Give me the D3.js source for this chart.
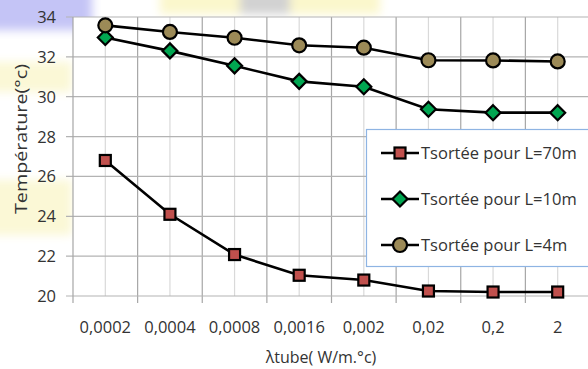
<!DOCTYPE html>
<html>
<head>
<meta charset="utf-8">
<script src="https://cdn.jsdelivr.net/npm/d3@7"></script>
<style>
  html, body { margin: 0; padding: 0; background: #fff; }
  svg { display: block; font-family: "Open Sans", Lato, sans-serif; }
</style>
</head>
<body>
<svg id="chart" width="588" height="369"></svg>
<script>
// Conductivity of the tube (categorical x axis)
const lambdaLabels = ["0,0002", "0,0004", "0,0008", "0,0016", "0,002", "0,02", "0,2", "2"];
// Outlet temperature for each tube length
const tL70 = [26.8, 24.1, 22.08, 21.04, 20.8, 20.25, 20.2, 20.2];
const tL10 = [32.97, 32.3, 31.55, 30.77, 30.5, 29.37, 29.2, 29.2];
const tL4  = [33.58, 33.25, 32.96, 32.58, 32.46, 31.83, 31.82, 31.77];
const yTicks = [20, 22, 24, 26, 28, 30, 32, 34];
const seriesNames = ["Tsortée pour L=70m", "Tsortée pour L=10m", "Tsortée pour L=4m"];

const svg = d3.select("#chart");

// soft background wash
const defs = svg.append("defs");
defs.append("filter").attr("id", "soft").attr("x", "-50%").attr("y", "-50%").attr("width", "200%").attr("height", "200%")
  .append("feGaussianBlur").attr("stdDeviation", 5);
const wash = svg.append("g").attr("filter", "url(#soft)");
wash.append("rect").attr("x", -20).attr("y", -20).attr("width", 112).attr("height", 50).attr("fill", "#c4c4f6");
wash.append("rect").attr("x", 160).attr("y", -20).attr("width", 220).attr("height", 34).attr("fill", "#fbf7cc");
wash.append("rect").attr("x", 240).attr("y", -20).attr("width", 50).attr("height", 34).attr("fill", "#d2d2d2");
wash.append("rect").attr("x", -20).attr("y", 62).attr("width", 92).attr("height", 30).attr("fill", "#fbf8d6");
wash.append("rect").attr("x", -20).attr("y", 180).attr("width", 92).attr("height", 55).attr("fill", "#fbf8d6");

const plotLeft = 73, plotRight = 590, plotTop = 17, plotBottom = 296;

const x = d3.scaleBand().domain(lambdaLabels).range([plotLeft, plotRight]).padding(0);
const y = d3.scaleLinear().domain([20, 34]).range([plotBottom, plotTop]);
const cx = d => x(d) + x.bandwidth() / 2;

// plot area background
svg.append("rect").attr("x", plotLeft).attr("y", plotTop).attr("width", plotRight - plotLeft).attr("height", plotBottom - plotTop).attr("fill", "#fff");

// light gridlines at category centres
svg.append("g").selectAll("line").data(lambdaLabels).join("line")
  .attr("x1", cx).attr("x2", cx)
  .attr("y1", plotTop).attr("y2", plotBottom)
  .attr("stroke", "#d9d9d9").attr("stroke-width", 1.2);

// darker gridlines at category boundaries, extended as tick marks
const bounds = lambdaLabels.map(d => x(d)).concat([plotRight]);
svg.append("g").selectAll("line").data(bounds.slice(1)).join("line")
  .attr("x1", d => d).attr("x2", d => d)
  .attr("y1", plotTop).attr("y2", plotBottom + 7)
  .attr("stroke", "#a6a6a6").attr("stroke-width", 1.2);

// horizontal gridlines with tick stubs
svg.append("g").selectAll("line").data(yTicks).join("line")
  .attr("x1", plotLeft - 7).attr("x2", plotRight)
  .attr("y1", d => y(d)).attr("y2", d => y(d))
  .attr("stroke", "#b3b3b3").attr("stroke-width", 1.2);

// y axis line
svg.append("line").attr("x1", plotLeft).attr("x2", plotLeft).attr("y1", plotTop).attr("y2", plotBottom + 7)
  .attr("stroke", "#a6a6a6").attr("stroke-width", 1.2);

// y tick labels
svg.append("g").selectAll("text").data(yTicks).join("text")
  .attr("x", 56).attr("y", d => y(d)).attr("dy", "0.36em")
  .attr("text-anchor", "end").attr("font-size", 16.5).attr("fill", "#333")
  .text(d => d);

// x tick labels
svg.append("g").selectAll("text").data(lambdaLabels).join("text")
  .attr("x", cx).attr("y", 327).attr("dy", "0.36em")
  .attr("text-anchor", "middle").attr("font-size", 16.5).attr("fill", "#333")
  .text(d => d);

// axis titles
svg.append("text").attr("x", 321).attr("y", 357).attr("dy", "0.36em")
  .attr("text-anchor", "middle").attr("font-size", 16).attr("fill", "#333")
  .text("λtube( W/m.°c)");
svg.append("text").attr("transform", "translate(21,139) rotate(-90)").attr("dy", "0.36em")
  .attr("text-anchor", "middle").attr("font-size", 16.5).attr("fill", "#333")
  .attr("textLength", 150).attr("lengthAdjust", "spacingAndGlyphs")
  .text("Température(°c)");

// marker drawing helpers
const markers = [
  (g, size) => g.append("rect").attr("x", -size).attr("y", -size).attr("width", 2 * size).attr("height", 2 * size)
    .attr("fill", "#c0504d").attr("stroke", "#000").attr("stroke-width", 2.2),
  (g, size) => g.append("path").attr("d", `M0,${-size - 2}L${size + 2},0L0,${size + 2}L${-size - 2},0Z`)
    .attr("fill", "#00a651").attr("stroke", "#000").attr("stroke-width", 2.2),
  (g, size) => g.append("circle").attr("r", size + 1.5)
    .attr("fill", "#9c8a57").attr("stroke", "#000").attr("stroke-width", 2.2)
];

const series = [tL70, tL10, tL4];
const line = d3.line().x((d, i) => cx(lambdaLabels[i])).y(d => y(d));

series.forEach((vals, si) => {
  svg.append("path").datum(vals).attr("d", line)
    .attr("fill", "none").attr("stroke", "#000").attr("stroke-width", 2.6);
  const g = svg.append("g");
  vals.forEach((v, i) => {
    const m = g.append("g").attr("transform", `translate(${cx(lambdaLabels[i])},${y(v)})`);
    markers[si](m, 5.5);
  });
});

// legend
const lg = svg.append("g");
lg.append("rect").attr("x", 366.5).attr("y", 129.5).attr("width", 230).attr("height", 137)
  .attr("fill", "#fff").attr("stroke", "#8eb4e3").attr("stroke-width", 1.2);
const rowY = [153, 199, 245];
seriesNames.forEach((name, i) => {
  lg.append("line").attr("x1", 381).attr("x2", 419).attr("y1", rowY[i]).attr("y2", rowY[i])
    .attr("stroke", "#000").attr("stroke-width", 2.6);
  const m = lg.append("g").attr("transform", `translate(400,${rowY[i]})`);
  markers[i](m, 5.5);
  lg.append("text").attr("x", 421).attr("y", rowY[i]).attr("dy", "0.36em")
    .attr("font-size", 16.5).attr("fill", "#333").text(name);
});
</script>
</body>
</html>
